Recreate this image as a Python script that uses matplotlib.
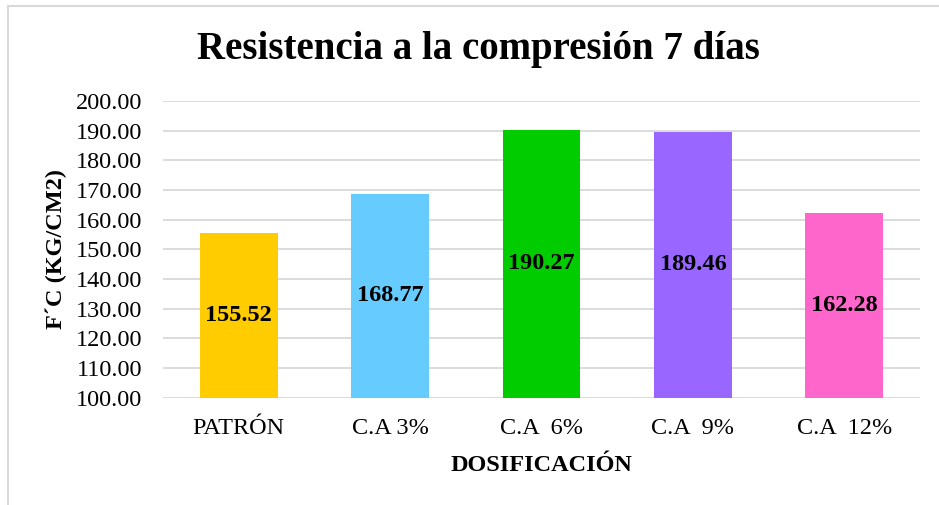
import matplotlib
matplotlib.use("Agg")
import matplotlib.pyplot as plt
from matplotlib.patches import Rectangle

categories = ["PATRÓN", "C.A 3%", "C.A  6%", "C.A  9%", "C.A  12%"]
values = [155.52, 168.77, 190.27, 189.46, 162.28]
colors = ["#FFCC00", "#66CCFF", "#00CC00", "#9966FF", "#FF66CC"]
yticks = [100, 110, 120, 130, 140, 150, 160, 170, 180, 190, 200]

W, H = 939, 505
fig = plt.figure(figsize=(W / 100, H / 100), dpi=100)
plt.rcParams['font.family'] = ['Liberation Serif', 'DejaVu Serif']
FS = 17.5

# outer chart border
fig.patches.append(Rectangle((7.5 / W, -0.1), 2, 1 - 5.5 / H + 0.1, transform=fig.transFigure,
                             fill=False, edgecolor="#D9D9D9", linewidth=1.5))

ax = fig.add_axes([163 / W, 1 - 397.5 / H, (920 - 163) / W, (397.5 - 101) / H])
x = range(len(categories))
bars = ax.bar(x, [v - 100 for v in values], bottom=100, width=0.515, color=colors, zorder=3)
for b, v in zip(bars, values):
    ax.text(b.get_x() + b.get_width() / 2, 100 + (v - 100) / 2, f"{v:.2f}",
            ha="center", va="center", fontsize=FS, fontweight="bold", zorder=4)

ax.set_ylim(100, 200)
ax.set_xlim(-0.5, len(categories) - 0.5)
ax.set_yticks(yticks)
ax.set_yticklabels([f"{t:.2f}" for t in yticks], fontsize=FS)
ax.set_xticks(list(x))
ax.set_xticklabels(categories, fontsize=FS)
ax.tick_params(axis="y", length=0, pad=15)
ax.tick_params(axis="x", length=0, pad=15)
ax.grid(axis="y", color="#D9D9D9", linewidth=1.3, zorder=0)
for s in ax.spines.values():
    s.set_visible(False)

ax.set_ylabel("F´C (KG/CM2)", fontsize=FS, fontweight="bold", labelpad=6)
ax.set_xlabel("DOSIFICACIÓN", fontsize=FS, fontweight="bold", labelpad=11)
fig.text(478 / W, 1 - 50 / H, "Resistencia a la compresión 7 días", ha="center", va="center",
         fontsize=28, fontweight="bold")

fig.savefig("out.png", dpi=100)
